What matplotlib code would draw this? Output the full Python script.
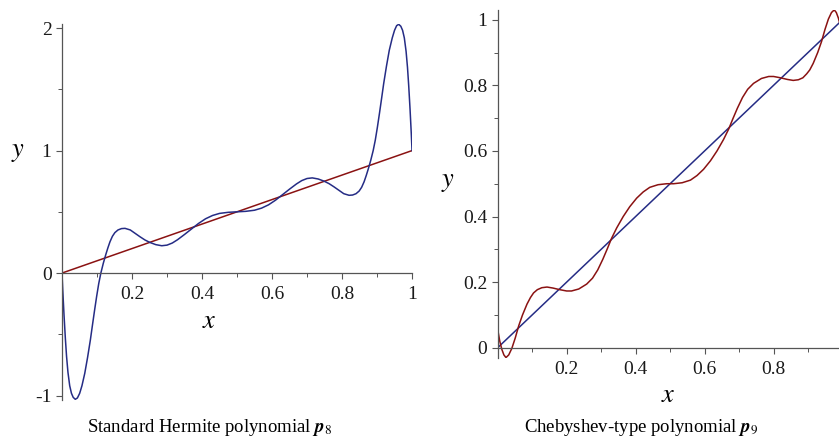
import matplotlib
matplotlib.use("Agg")
import matplotlib.pyplot as plt

plt.rcParams["font.family"] = ["Liberation Serif", "DejaVu Serif"]
plt.rcParams["mathtext.fontset"] = "stix"

BLUE = "#252c85"
RED = "#8a1212"
AXIS = "#555555"

# reference line y = x
line_x = [0.0, 1.0]
line_y = [0.0, 1.0]

# left panel: standard Hermite polynomial p8
herm_x = [0.0, 0.002, 0.0057, 0.0095, 0.013, 0.017, 0.022, 0.027, 0.032, 0.038,
          0.044, 0.0505, 0.057, 0.065, 0.073, 0.081, 0.087, 0.093, 0.099, 0.105,
          0.111, 0.118, 0.125, 0.131, 0.137, 0.144, 0.151, 0.16, 0.17, 0.18,
          0.195, 0.209, 0.223, 0.237, 0.251, 0.268, 0.285, 0.3, 0.315, 0.33,
          0.35, 0.37, 0.39, 0.41, 0.43, 0.45, 0.475, 0.5,
          0.525, 0.55, 0.57, 0.59, 0.61, 0.63, 0.65, 0.67, 0.685, 0.7,
          0.715, 0.732, 0.749, 0.763, 0.777, 0.791, 0.805, 0.82, 0.83, 0.84,
          0.849, 0.856, 0.863, 0.869, 0.875, 0.882, 0.889, 0.895, 0.901, 0.907,
          0.913, 0.919, 0.927, 0.935, 0.9435, 0.95, 0.956, 0.962, 0.968, 0.973,
          0.978, 0.983, 0.987, 0.9905, 0.9943, 0.998, 1.0]
herm_y = [0.0, -0.13, -0.34, -0.53, -0.68, -0.81, -0.92, -0.982, -1.015, -1.031,
          -1.02, -0.982, -0.92, -0.819, -0.69, -0.547, -0.425, -0.305, -0.19, -0.085,
          0.0, 0.08, 0.15, 0.205, 0.255, 0.30, 0.33, 0.352, 0.363, 0.365,
          0.352, 0.324, 0.296, 0.27, 0.25, 0.232, 0.223, 0.228, 0.245, 0.272,
          0.315, 0.36, 0.405, 0.443, 0.47, 0.487, 0.496, 0.5,
          0.504, 0.513, 0.53, 0.557, 0.595, 0.64, 0.685, 0.728, 0.755, 0.772,
          0.777, 0.768, 0.75, 0.73, 0.704, 0.676, 0.648, 0.635, 0.637, 0.648,
          0.67, 0.70, 0.745, 0.795, 0.85, 0.92, 1.0, 1.085, 1.19, 1.305,
          1.425, 1.547, 1.69, 1.819, 1.92, 1.982, 2.02, 2.031, 2.015, 1.982,
          1.92, 1.81, 1.68, 1.53, 1.34, 1.13, 1.0]

# right panel: Chebyshev-type polynomial p9
cheb_x = [0.0, 0.006, 0.012, 0.018, 0.024, 0.032, 0.041, 0.051, 0.061, 0.072,
          0.085, 0.095, 0.104, 0.115, 0.128, 0.143, 0.16, 0.18, 0.2, 0.214,
          0.235, 0.258, 0.275, 0.29, 0.305, 0.318, 0.33, 0.345, 0.364, 0.383,
          0.403, 0.422, 0.441, 0.465, 0.49,
          0.51, 0.535, 0.559, 0.578, 0.597, 0.617, 0.636, 0.655, 0.67, 0.682,
          0.695, 0.71, 0.725, 0.742, 0.765, 0.786, 0.8, 0.82, 0.84, 0.857,
          0.872, 0.885, 0.896, 0.905, 0.915, 0.928, 0.939, 0.949, 0.959, 0.968,
          0.976, 0.982, 0.988, 0.994, 1.0]
cheb_y = [0.056, 0.02, -0.005, -0.022, -0.03, -0.022, -0.002, 0.03, 0.067, 0.1,
          0.133, 0.153, 0.167, 0.177, 0.183, 0.185, 0.182, 0.177, 0.173, 0.173,
          0.179, 0.194, 0.212, 0.237, 0.27, 0.302, 0.333, 0.365, 0.4, 0.43,
          0.456, 0.475, 0.489, 0.497, 0.5,
          0.5, 0.503, 0.511, 0.525, 0.544, 0.57, 0.6, 0.635, 0.667, 0.698,
          0.73, 0.763, 0.788, 0.806, 0.821, 0.827, 0.827, 0.823, 0.818, 0.815,
          0.817, 0.823, 0.835, 0.847, 0.867, 0.9, 0.933, 0.97, 1.002, 1.022,
          1.03, 1.022, 1.005, 0.98, 0.944]

herm_xticks = [0.2, 0.4, 0.6, 0.8, 1.0]
herm_xlabels = ["0.2", "0.4", "0.6", "0.8", "1"]
herm_yticks = [-1, 0, 1, 2]
herm_ylabels = ["-1", "0", "1", "2"]
cheb_xticks = [0.2, 0.4, 0.6, 0.8, 1.0]
cheb_xlabels = ["0.2", "0.4", "0.6", "0.8", "1"]
cheb_yticks = [0, 0.2, 0.4, 0.6, 0.8, 1.0]
cheb_ylabels = ["0", "0.2", "0.4", "0.6", "0.8", "1"]


def maple_axes(ax, xticks, xlabels, xminor, yticks, ylabels, yminor):
    for side in ["top", "right"]:
        ax.spines[side].set_visible(False)
    for side in ["left", "bottom"]:
        ax.spines[side].set_position(("data", 0))
        ax.spines[side].set_color(AXIS)
        ax.spines[side].set_linewidth(0.9)
    ax.set_xticks(xticks)
    ax.set_xticklabels(xlabels)
    ax.set_xticks(xminor, minor=True)
    ax.set_yticks(yticks)
    ax.set_yticklabels(ylabels)
    ax.set_yticks(yminor, minor=True)
    ax.tick_params(which="major", length=4.5, width=0.8, color=AXIS,
                   labelsize=14, labelcolor="#1a1a1a")
    ax.tick_params(which="minor", length=3, width=0.7, color=AXIS)
    ax.tick_params(axis="x", which="major", pad=5)
    ax.tick_params(axis="y", which="major", pad=3)
    ax.set_facecolor("none")


fig = plt.figure(figsize=(8.39, 4.38), dpi=100)

ax1 = fig.add_axes([0.0739, 0.0872, 0.4172, 0.857])
ax1.plot(line_x, line_y, color=RED, lw=1.1)
ax1.plot(herm_x, herm_y, color=BLUE, lw=1.1)
ax1.set_xlim(0, 1)
ax1.set_ylim(-1.035, 2.03)
maple_axes(ax1, herm_xticks, herm_xlabels, [0.1, 0.3, 0.5, 0.7, 0.9],
           herm_yticks, herm_ylabels, [-0.5, 0.5, 1.5])

ax2 = fig.add_axes([0.5932, 0.1829, 0.411, 0.7945])
ax2.plot(line_x, line_y, color=BLUE, lw=1.1)
ax2.plot(cheb_x, cheb_y, color=RED, lw=1.1)
ax2.set_xlim(0, 1)
ax2.set_ylim(-0.031, 1.03)
maple_axes(ax2, cheb_xticks, cheb_xlabels, [0.1, 0.3, 0.5, 0.7, 0.9],
           cheb_yticks, cheb_ylabels, [0.1, 0.3, 0.5, 0.7, 0.9])

# axis names
fig.text(18 / 839, 1 - 153 / 438, "$y$", fontsize=19, ha="center", va="center")
fig.text(209 / 839, 1 - 322 / 438, "$x$", fontsize=19, ha="center", va="center")
fig.text(448 / 839, 1 - 183 / 438, "$y$", fontsize=19, ha="center", va="center")
fig.text(668 / 839, 1 - 396 / 438, "$x$", fontsize=19, ha="center", va="center")

# captions
fig.text(210 / 839, 1 - 428 / 438, r"Standard Hermite polynomial $\boldsymbol{p}_8$",
         fontsize=13.5, ha="center", va="center")
fig.text(641 / 839, 1 - 428 / 438, r"Chebyshev-type polynomial $\boldsymbol{p}_9$",
         fontsize=13.5, ha="center", va="center")

fig.savefig("out.png", dpi=100)
